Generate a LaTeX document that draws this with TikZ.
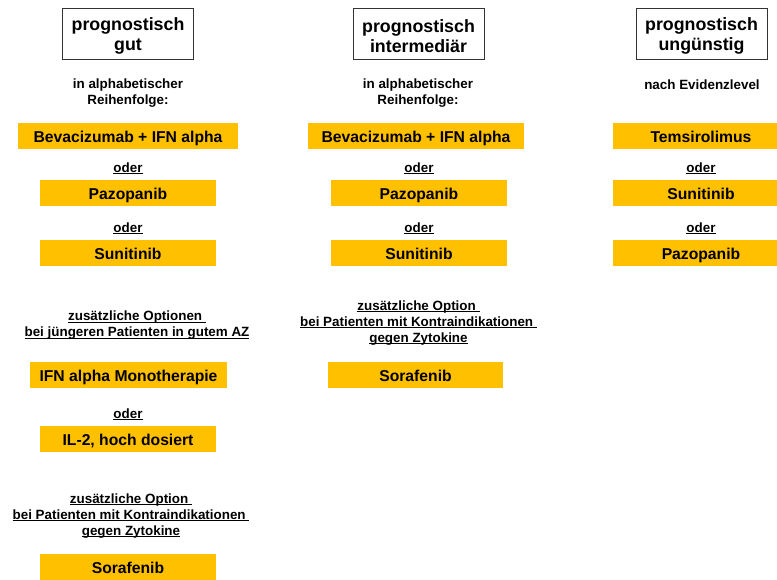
\documentclass[tikz,border=0pt]{standalone}
\usepackage{fontspec}
\setmainfont{Liberation Sans}

\definecolor{drugyellow}{HTML}{FFC000}
\definecolor{boxgray}{HTML}{333333}

% underline at a fixed depth, trailing spaces kept
\newcommand{\undl}[1]{\setbox0=\hbox{#1}\rlap{\rule[-1.8pt]{\wd0}{0.9pt}}\box0}
% strut that pushes the header text a little down
\newcommand{\headstrut}{\rule{0pt}{18pt}}

\tikzset{
  headbox/.style={draw=boxgray, line width=1pt, minimum width=131pt, minimum height=51pt,
    align=center, inner sep=0pt, font=\fontsize{17.8}{20.5}\selectfont\bfseries},
  drugbox/.style={fill=drugyellow, minimum width=176pt, minimum height=26pt,
    inner sep=0pt, text height=13pt, text depth=0pt, font=\fontsize{15.7}{18}\selectfont\bfseries},
  hint/.style={align=center, inner sep=0pt, font=\fontsize{13.4}{16}\selectfont\bfseries},
}

\begin{document}
\begin{tikzpicture}[x=1pt, y=-1pt]
\useasboundingbox (0,0) rectangle (777,579);

% prognostisch gut
\node[headbox] (gut) at (128,33.5) {\headstrut prognostisch\\gut};
\node[hint] (gutorder) at (128,93) {in alphabetischer\\Reihenfolge:};
\node[drugbox, minimum width=220pt] (gutbev) at (128,136) {Bevacizumab + IFN alpha};
\node[hint] (gutor1) at (128,168.5) {\undl{oder}};
\node[drugbox] (gutpazo) at (128,193) {Pazopanib};
\node[hint] (gutor2) at (128,228.5) {\undl{oder}};
\node[drugbox] (gutsuni) at (128,253) {Sunitinib};
\node[hint] (gutopt) at (137,325.5) {\undl{zusätzliche Optionen\ }\\\undl{bei jüngeren Patienten in gutem AZ}};
\node[drugbox, minimum width=197pt] (gutifn) at (128.5,375) {IFN alpha Monotherapie};
\node[hint] (gutor3) at (128,414.5) {\undl{oder}};
\node[drugbox] (gutil) at (128,438.5) {IL-2, hoch dosiert};
\node[hint] (gutsoraopt) at (131,515.7) {\undl{zusätzliche Option\ }\\\undl{bei Patienten mit Kontraindikationen\ }\\\undl{gegen Zytokine}};
\node[drugbox] (gutsora) at (128,567) {Sorafenib};

% prognostisch intermediaer
\node[headbox] (mid) at (418.5,33.5) {\headstrut prognostisch\\intermediär};
\node[hint] (midorder) at (418,93) {in alphabetischer\\Reihenfolge:};
\node[drugbox, minimum width=216pt] (midbev) at (416,136) {Bevacizumab + IFN alpha};
\node[hint] (midor1) at (419,168.5) {\undl{oder}};
\node[drugbox] (midpazo) at (419,193) {Pazopanib};
\node[hint] (midor2) at (419,228.5) {\undl{oder}};
\node[drugbox] (midsuni) at (419,253) {Sunitinib};
\node[hint] (midsoraopt) at (418.5,323) {\undl{zusätzliche Option\ }\\\undl{bei Patienten mit Kontraindikationen\ }\\\undl{gegen Zytokine}};
\node[drugbox, minimum width=175pt] (midsora) at (415.5,375) {Sorafenib};

% prognostisch unguenstig
\node[headbox] (bad) at (701.5,33.5) {\headstrut prognostisch\\ungünstig};
\node[hint] (badorder) at (702,85) {nach Evidenzlevel};
\node[drugbox] (badtems) at (701,136) {Temsirolimus};
\node[hint] (bador1) at (701,168.5) {\undl{oder}};
\node[drugbox] (badsuni) at (701,193) {Sunitinib};
\node[hint] (bador2) at (701,228.5) {\undl{oder}};
\node[drugbox] (badpazo) at (701,253) {Pazopanib};

\end{tikzpicture}
\end{document}
